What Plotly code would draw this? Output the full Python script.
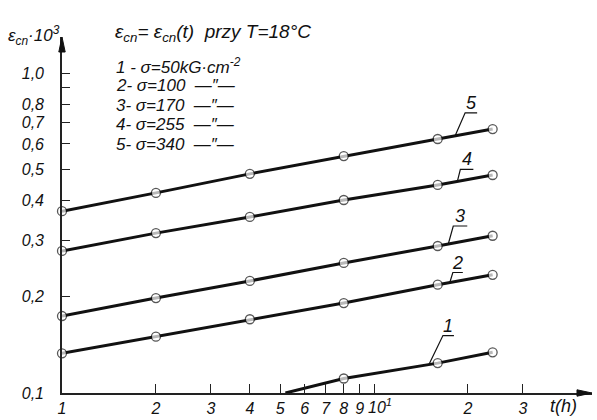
import numpy as np
import plotly.graph_objects as go

# ---------------- data ----------------
t_h = [1, 2, 4, 8, 16, 24]
eps_5 = [0.370, 0.422, 0.484, 0.550, 0.622, 0.668]   # sigma = 340
eps_4 = [0.278, 0.316, 0.355, 0.401, 0.447, 0.480]   # sigma = 255
eps_3 = [0.174, 0.198, 0.224, 0.255, 0.288, 0.310]   # sigma = 170
eps_2 = [0.133, 0.150, 0.170, 0.191, 0.218, 0.234]   # sigma = 100
t_1 = [8, 16, 24]
eps_1 = [0.111, 0.124, 0.134]                        # sigma = 50
curve1_start_t = 5.2
curve1_start_eps = 0.100

x_tickvals = [1, 2, 3, 4, 5, 6, 7, 8, 9, 10, 20, 30]
x_ticktext = ["1", "2", "3", "4", "5", "6", "7", "8", "9", "", "2", "3"]
x_decade_label = "10<sup>1</sup>"   # label of the t = 10 tick
y_tickvals = [0.1, 0.2, 0.3, 0.4, 0.5, 0.6, 0.7, 0.8, 0.9, 1.0]
y_ticktext = ["0,1", "0,2", "0,3", "0,4", "0,5", "0,6", "0,7", "0,8", " ", "1,0"]

legend_lines = [
    "1 - σ=50kG·cm<sup>-2</sup>",
    "2- σ=100  —\u2033—",
    "3- σ=170  —\u2033—",
    "4- σ=255  —\u2033—",
    "5- σ=340  —\u2033—",
]
title_text = "ε<sub>cn</sub>= ε<sub>cn</sub>(t)  przy T=18°C"
y_title = "ε<sub>cn</sub>·10<sup>3</sup>"

# curve labels: (label, t at leader base, leader dx px, dy px, underline px)
curve_labels = [
    ("5", 18.2, 10, 23, 12),
    ("4", 18.5, 3, 12, 13),
    ("3", 17.3, 5, 18, 14),
    ("2", 17.5, 3, 10, 10),
    ("1", 15.0, 14, 29, 11),
]

# ---------------- layout geometry ----------------
W, H = 597, 420
ML, MR, MT, MB = 62, 5, 37, 27
PW, PH = W - ML - MR, H - MT - MB
X_DEC, Y_DEC = 312.0, 320.0
xr = [0, PW / X_DEC]
yr = [-1, -1 + PH / Y_DEC]

REG = "Liberation Sans, Arial, sans-serif"
INK = "#111111"


def px2paper(px, py):
    return (px - ML) / PW, (H - MB - py) / PH


fig = go.Figure()

curves = [(t_h, eps_5), (t_h, eps_4), (t_h, eps_3), (t_h, eps_2),
          ([curve1_start_t] + t_1, [curve1_start_eps] + eps_1)]
for i, (tx, ey) in enumerate(curves):
    sizes = [9] * len(tx)
    if i == 4:
        sizes[0] = 0
    fig.add_trace(go.Scatter(
        x=tx, y=ey, mode="lines+markers",
        line=dict(color=INK, width=3),
        marker=dict(size=sizes, color="white", line=dict(color=INK, width=1.3)),
        cliponaxis=False, showlegend=False, hoverinfo="skip"))

# leader lines & curve numbers
series_for_label = {"5": (t_h, eps_5), "4": (t_h, eps_4), "3": (t_h, eps_3),
                    "2": (t_h, eps_2), "1": (t_1, eps_1)}
for lab, tb, dx, dy, hl in curve_labels:
    tx, ey = series_for_label[lab]
    lx = np.log10(tx)
    ly = np.log10(ey)
    lb = np.log10(tb)
    yb = np.interp(lb, lx, ly)
    x0, y0 = lb, yb
    x1, y1 = lb + dx / X_DEC, yb + dy / Y_DEC
    x2 = x1 + hl / X_DEC
    fig.add_trace(go.Scatter(
        x=[10 ** x0, 10 ** x1, 10 ** x2], y=[10 ** y0, 10 ** y1, 10 ** y1],
        mode="lines", line=dict(color=INK, width=1.2),
        showlegend=False, hoverinfo="skip", cliponaxis=False))
    fig.add_annotation(x=(x1 + x2) / 2, y=y1, xref="x", yref="y",
                       text="<i>%s</i>" % lab, showarrow=False,
                       yanchor="bottom", yshift=-2,
                       font=dict(family=REG, size=18, color=INK))

axis_common = dict(type="log", showgrid=False, zeroline=False, automargin=False,
                   showline=True, linecolor="#222222", linewidth=1.6,
                   ticks="inside", tickcolor="#222222", tickwidth=1.2)

fig.update_layout(
    width=W, height=H,
    margin=dict(l=ML, r=MR, t=MT, b=MB, pad=0, autoexpand=False),
    paper_bgcolor="white", plot_bgcolor="white",
    xaxis=dict(range=xr, tickmode="array", tickvals=x_tickvals,
               ticktext=["<i>%s</i>" % s for s in x_ticktext], ticklen=9,
               tickangle=0, tickfont=dict(family=REG, size=16, color=INK),
               ticklabelstandoff=0,
               **axis_common),
    yaxis=dict(range=yr, tickmode="array", tickvals=y_tickvals,
               ticktext=["<i>%s</i>" % s for s in y_ticktext], ticklen=8,
               tickfont=dict(family=REG, size=16, color=INK),
               ticklabelstandoff=13,
               **axis_common),
)

# label of the 10 tick, set just right of the tick (as in the drawing)
fig.add_annotation(x=np.log10(x_tickvals[9]), y=0, xref="x", yref="paper",
                   text="<i>%s</i>" % x_decade_label, showarrow=False,
                   xanchor="left", yanchor="top", xshift=-8, yshift=-1,
                   font=dict(family=REG, size=16, color=INK))

# arrowheads
ah_len, ah_w = 15, 3.2
fig.add_shape(type="path", xref="paper", yref="paper",
              path="M 0,1 L %f,%f L %f,%f Z" % (-ah_w / PW, 1 - ah_len / PH, ah_w / PW, 1 - ah_len / PH),
              fillcolor=INK, line=dict(color=INK, width=1))
fig.add_shape(type="path", xref="paper", yref="paper",
              path="M 1,0 L %f,%f L %f,%f Z" % (1 - ah_len / PW, ah_w / PH, 1 - ah_len / PW, -ah_w / PH),
              fillcolor=INK, line=dict(color=INK, width=1))

# texts
def add_text(px, py, txt, size=15, xanchor="left", family=REG):
    xp, yp = px2paper(px, py)
    fig.add_annotation(x=xp, y=yp, xref="paper", yref="paper", text="<i>%s</i>" % txt,
                       showarrow=False, xanchor=xanchor, yanchor="middle",
                       font=dict(family=family, size=size, color=INK))

add_text(6, 36, y_title, size=17)
add_text(113, 33, title_text, size=19)
for k, line in enumerate(legend_lines):
    add_text(114, 66 + 19.5 * k, line, size=17)
add_text(548, 406, "t(h)", size=18)

fig.write_html("out.html")
